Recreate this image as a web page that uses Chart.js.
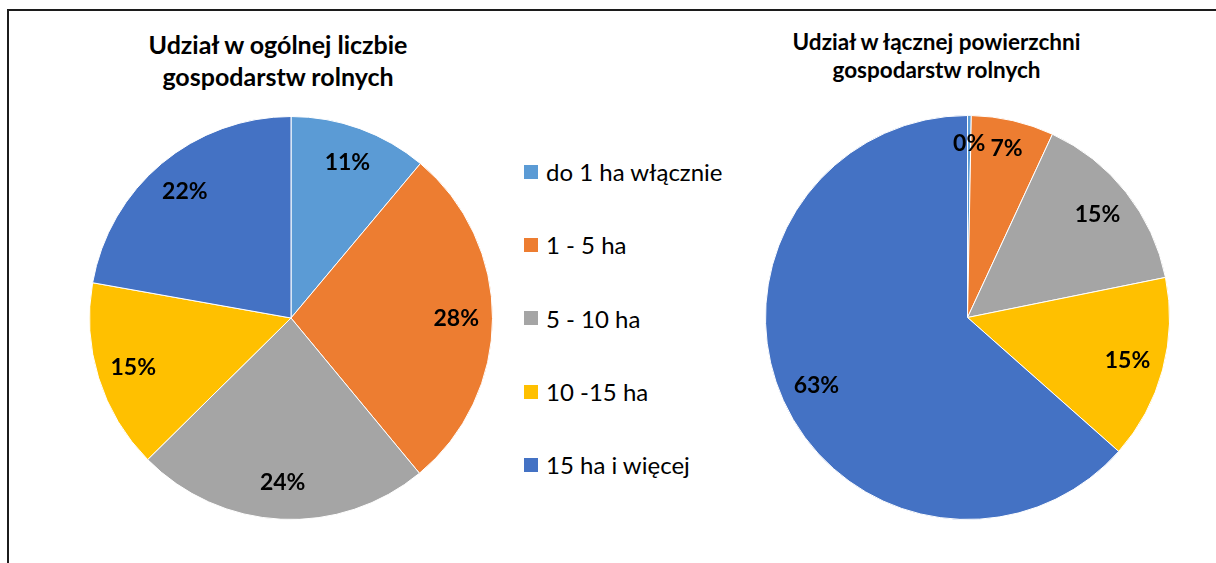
<!DOCTYPE html>
<html lang="pl">
<head>
<meta charset="utf-8">
<title>Gospodarstwa rolne</title>
<script src="https://cdn.jsdelivr.net/npm/chart.js@4.4.1/dist/chart.umd.min.js"></script>
<style>
    html, body {
        margin: 0;
        padding: 0;
        width: 1216px;
        height: 563px;
        overflow: hidden;
        background: #fff;
        font-family: Lato, "Open Sans", sans-serif;
        color: #000;
    }
    .frame {
        position: absolute;
        left: 7px;
        top: 9px;
        width: 1300px;
        height: 700px;
        border-top: 2px solid #1c1c1c;
        border-left: 2px solid #1c1c1c;
    }
    .title {
        position: absolute;
        text-align: center;
        font-weight: bold;
        white-space: nowrap;
    }
    #titleLeft { left: 78px; top: 28px; width: 400px; font-size: 25px; line-height: 32px; }
    #titleRight { left: 736px; top: 28px; width: 401px; font-size: 22.5px; line-height: 28px; }
    .chart-box { position: absolute; }
    #legend {
        position: absolute;
        left: 524px;
        top: 135px;
        margin: 0;
        padding: 0;
        list-style: none;
    }
    #legend li {
        display: flex;
        align-items: center;
        height: 73.3px;
        font-size: 24px;
        white-space: nowrap;
    }
    #legend .swatch {
        display: inline-block;
        width: 14px;
        height: 14px;
        margin-right: 8px;
    }
</style>
</head>
<body>
<div class="frame"></div>
<div class="title" id="titleLeft">Udział w ogólnej liczbie<br>gospodarstw rolnych</div>
<div class="title" id="titleRight">Udział w łącznej powierzchni<br>gospodarstw rolnych</div>

<div class="chart-box" style="left:89px; top:116px;">
    <canvas id="countChart" width="404" height="404"></canvas>
</div>
<div class="chart-box" style="left:765px; top:115px;">
    <canvas id="areaChart" width="405" height="405"></canvas>
</div>
<ul id="legend"></ul>

<script>
// Farm size groups
const categories = ['do 1 ha włącznie', '1 - 5 ha', '5 - 10 ha', '10 -15 ha', '15 ha i więcej'];

// Share in total number of farms (%)
const countShares = [11.1, 27.9, 23.6, 15.2, 22.2];

// Share in total farm area (%)
const areaShares = [0.3, 6.6, 14.9, 14.7, 63.4];

const sliceColors = ['#5B9BD5', '#ED7D31', '#A5A5A5', '#FFC000', '#4472C4'];

// Draws rounded percentages inside the slices
const percentLabels = {
    id: 'percentLabels',
    afterDatasetsDraw(chart) {
        const ctx = chart.ctx;
        const meta = chart.getDatasetMeta(0);
        const values = chart.data.datasets[0].data;
        ctx.save();
        ctx.font = 'bold 23px Lato, sans-serif';
        ctx.fillStyle = '#000';
        ctx.textAlign = 'center';
        ctx.textBaseline = 'middle';
        meta.data.forEach((arc, i) => {
            const props = arc.getProps(['x', 'y', 'startAngle', 'endAngle', 'outerRadius'], true);
            const mid = (props.startAngle + props.endAngle) / 2;
            const factor = values[i] < 8 ? 0.86 : 0.82;
            const r = props.outerRadius * factor;
            ctx.fillText(Math.round(values[i]) + '%', props.x + Math.cos(mid) * r, props.y + Math.sin(mid) * r);
        });
        ctx.restore();
    }
};

function buildPie(canvasId, values) {
    const canvas = document.getElementById(canvasId);
    return new Chart(canvas, {
        type: 'pie',
        data: {
            labels: categories,
            datasets: [{
                data: values,
                backgroundColor: sliceColors,
                borderColor: '#ffffff',
                borderWidth: 1
            }]
        },
        options: {
            responsive: false,
            animation: false,
            events: [],
            layout: { padding: 0 },
            plugins: {
                legend: { display: false },
                title: { display: false },
                tooltip: { enabled: false }
            }
        },
        plugins: [percentLabels]
    });
}

function buildLegend() {
    const list = document.getElementById('legend');
    categories.forEach((name, i) => {
        const item = document.createElement('li');
        const swatch = document.createElement('span');
        swatch.className = 'swatch';
        swatch.style.background = sliceColors[i];
        item.appendChild(swatch);
        item.appendChild(document.createTextNode(name));
        list.appendChild(item);
    });
}

buildPie('countChart', countShares);
buildPie('areaChart', areaShares);
buildLegend();
</script>
</body>
</html>
